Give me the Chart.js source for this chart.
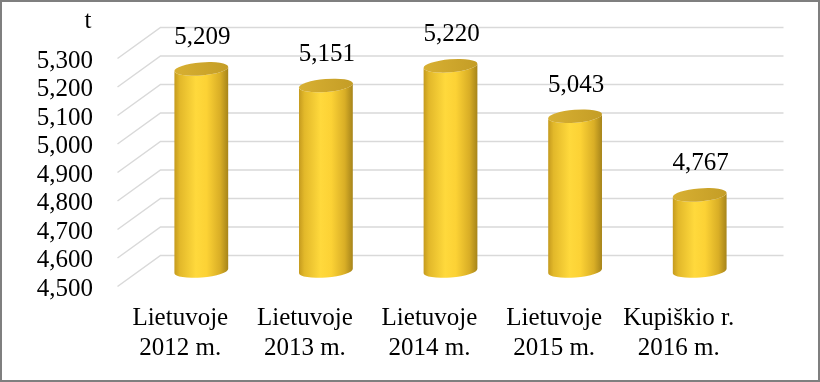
<!DOCTYPE html>
<html>
<head>
<meta charset="utf-8">
<script src="https://cdn.jsdelivr.net/npm/chart.js@4"></script>
<style>
  body { margin: 0; background: #fff; }
  canvas { display: block; }
</style>
</head>
<body>
<canvas id="myChart" width="820" height="382"></canvas>
<script>
let categories = [['Lietuvoje', '2012 m.'], ['Lietuvoje', '2013 m.'], ['Lietuvoje', '2014 m.'], ['Lietuvoje', '2015 m.'], ['Kupiškio r.', '2016 m.']];
let values = [5209, 5151, 5220, 5043, 4767];
let yMin = 4500;
let yMax = 5300;
let yStep = 100;
let unitLabel = 't';

let serif = "'Liberation Serif', 'Times New Roman', serif";
let fmt = (v) => v.toLocaleString('en-US');

// 3d look: front plane is shifted down-left, back wall up-right of the bars
let depthX = 21.5;
let depthY = 15.5;

let frameAndGrid = {
  id: 'frameAndGrid',
  beforeDatasetsDraw(chart) {
    let ctx = chart.ctx;
    let y = chart.scales.y;
    let area = chart.chartArea;
    ctx.save();
    ctx.strokeStyle = '#d9d9d9';
    ctx.lineWidth = 1.5;
    for (let v = yMin; v <= yMax; v += yStep) {
      let py = y.getPixelForValue(v);
      ctx.beginPath();
      ctx.moveTo(area.left - depthX, py + depthY);
      ctx.lineTo(area.left + depthX, py - depthY);
      ctx.lineTo(area.right + depthX, py - depthY);
      ctx.stroke();
    }
    ctx.restore();
  },
  afterDraw(chart) {
    let ctx = chart.ctx;
    ctx.save();
    ctx.fillStyle = '#000';
    ctx.font = '25px ' + serif;
    ctx.textAlign = 'center';
    ctx.textBaseline = 'middle';
    ctx.fillText(unitLabel, 88, 21);
    ctx.strokeStyle = '#7f7f7f';
    ctx.lineWidth = 2;
    ctx.strokeRect(1, 1, chart.width - 2, chart.height - 2);
    ctx.restore();
  }
};

let cylinders = {
  id: 'cylinders',
  afterDatasetsDraw(chart) {
    let ctx = chart.ctx;
    let meta = chart.getDatasetMeta(0);
    let base = chart.scales.y.getPixelForValue(yMin);
    let tilt = -0.08;
    let ry = 6.5;
    ctx.save();
    meta.data.forEach((bar, i) => {
      let cx = bar.x;
      let top = bar.y;
      let rx = bar.width / 2;
      let ex = rx * Math.cos(tilt);
      let ey = rx * Math.sin(tilt);

      let grad = ctx.createLinearGradient(cx - rx, 0, cx + rx, 0);
      grad.addColorStop(0, '#c49a1e');
      grad.addColorStop(0.1, '#e2b82a');
      grad.addColorStop(0.4, '#ffd93c');
      grad.addColorStop(0.6, '#fcd235');
      grad.addColorStop(0.85, '#d9ae26');
      grad.addColorStop(1, '#a6841a');

      ctx.beginPath();
      ctx.moveTo(cx - ex, top - ey);
      ctx.lineTo(cx - ex, base - ey);
      ctx.ellipse(cx, base, rx, ry, tilt, Math.PI, 0, true);
      ctx.lineTo(cx + ex, top + ey);
      ctx.ellipse(cx, top, rx, ry, tilt, 0, Math.PI, false);
      ctx.closePath();
      ctx.fillStyle = grad;
      ctx.fill();

      let topGrad = ctx.createLinearGradient(cx - rx, 0, cx + rx, 0);
      topGrad.addColorStop(0, '#d8b032');
      topGrad.addColorStop(1, '#c49d26');
      ctx.beginPath();
      ctx.ellipse(cx, top, rx, ry, tilt, 0, Math.PI * 2);
      ctx.fillStyle = topGrad;
      ctx.fill();

      ctx.fillStyle = '#000';
      ctx.font = '25px ' + serif;
      ctx.textAlign = 'center';
      ctx.textBaseline = 'middle';
      ctx.fillText(fmt(values[i]), cx + 1, top - 31);
    });
    ctx.restore();
  }
};

let noPad = (scale) => {
  scale.paddingTop = 0;
  scale.paddingBottom = 0;
  scale.paddingLeft = 0;
  scale.paddingRight = 0;
};

let ctx = document.getElementById('myChart').getContext('2d');
let myChart = new Chart(ctx, {
  type: 'bar',
  data: {
    labels: categories,
    datasets: [{
      data: values,
      backgroundColor: 'rgba(0,0,0,0)',
      borderWidth: 0,
      categoryPercentage: 1,
      barPercentage: 0.433
    }]
  },
  options: {
    responsive: false,
    animation: false,
    layout: {
      padding: { left: 0, right: 58, top: 43, bottom: 0 }
    },
    plugins: {
      legend: { display: false },
      tooltip: { enabled: false }
    },
    scales: {
      x: {
        afterFit: (scale) => { scale.height = 111; noPad(scale); },
        grid: { display: false, drawTicks: false },
        border: { display: false },
        ticks: {
          color: '#000',
          font: { family: serif, size: 25, lineHeight: 1.2 },
          padding: 32,
          labelOffset: -21,
          maxRotation: 0,
          autoSkip: false
        }
      },
      y: {
        min: yMin,
        max: yMax,
        afterFit: (scale) => { scale.width = 139; noPad(scale); },
        grid: { display: false, drawTicks: false },
        border: { display: false },
        ticks: {
          stepSize: yStep,
          autoSkip: false,
          color: '#000',
          font: { family: serif, size: 25 },
          padding: 46,
          labelOffset: 18,
          callback: (v) => fmt(v)
        }
      }
    }
  },
  plugins: [frameAndGrid, cylinders]
});
</script>
</body>
</html>
